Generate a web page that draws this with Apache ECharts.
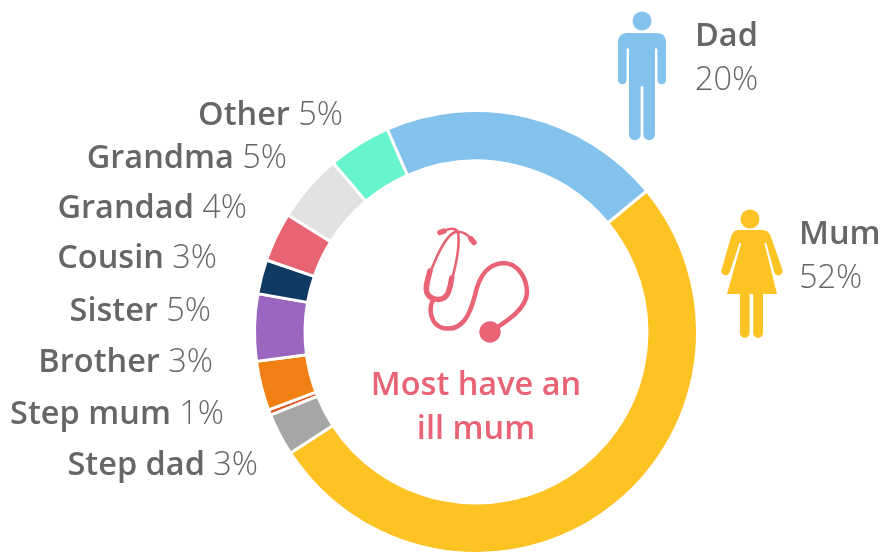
<!DOCTYPE html>
<html>
<head>
<meta charset="utf-8">
<style>
html, body { margin: 0; padding: 0; background: #fff; }
#main { width: 882px; height: 554px; }
</style>
<script src="https://cdn.jsdelivr.net/npm/echarts@6/dist/echarts.min.js"></script>
</head>
<body>
<div id="main"></div>
<script>
// slices run clockwise, starting with Mum
var names = ['Mum', 'Step dad', 'Step mum', 'Brother', 'Sister', 'Cousin', 'Grandad', 'Grandma', 'Other', 'Dad'];
// printed percentages
var printed = [52, 3, 1, 3, 5, 3, 4, 5, 5, 20];
// share of the ring each slice really takes up
var values = [51.9, 3.1, 0.4, 3.6, 4.9, 2.5, 3.6, 5.0, 4.6, 20.6];
var colors = ['#FDC323', '#A6A6A6', '#E04E1C', '#F18014', '#9A66C0', '#0F3A63', '#E86474', '#E2E2E2', '#66F5CE', '#83C2EC'];

// where each label goes: [x, y, align]
var labelSpots = [
    [799, 257, 'left'], [258, 466, 'right'], [224, 415, 'right'], [213, 363, 'right'], [211, 312, 'right'],
    [217, 259, 'right'], [247, 209, 'right'], [287, 159, 'right'], [343, 116, 'right'], [695, 59, 'left']
];

var textColor = '#666666';
var fontName = '"Open Sans", sans-serif';
var pink = '#E86474';

var dadPath = 'M627 33 H657 Q666 33 666 43 V80 A4.3 4.3 0 0 1 657.4 80 V49.5 Q657 48 656 48 Q655 48 655 49.5 V134.5 A5.8 5.8 0 0 1 643.4 134.5 V87 Q642 85 640.6 87 V134.5 A5.8 5.8 0 0 1 629 134.5 V49.5 Q629 48 628 48 Q627 48 626.6 49.5 V80 A4.3 4.3 0 0 1 618 80 V43 Q618 33 627 33 Z';
var mumPath = 'M738 230 H762 Q769 230 771 237 L782.5 270 A4.3 4.3 0 0 1 774.5 273 L766.6 244 Q765.5 242 764.5 243.5 L777 294 H763 V333 A4.9 4.9 0 0 1 753.2 333 V294 H749.6 V333 A4.8 4.8 0 0 1 740 333 V294 H727 L741 244 Q740.2 242 739.3 243.5 L729.5 273 A4.3 4.3 0 0 1 721.5 270 L731 237 Q733 230 738 230 Z';
var earTubes = 'M440 232.5 C447 229 455 226 458 232 C460 245 456 265 451.7 280 M474 242.5 C467 233 462 231 455 232 C445 236 436 258 430 273';
var earTips = 'M440 232.5 L444 231 M474 242.5 L471 239';
var yoke = 'M430 271 C427 282 425 288 427 293 C431 301 444 302 448 293 C450 288 451 284 451.7 278';
var mainTube = 'M433 300 C428 310 431 325 443 328 C462 332 470 315 475 295 C480 272 490 264 503 263 C518 263 527 278 527 293 C526 310 505 322 490 332';

var myChart = echarts.init(document.getElementById('main'));

var pieData = [];
for (var i = 0; i < names.length; i++) {
    pieData.push({ name: names[i], value: values[i], itemStyle: { color: colors[i] } });
}

function fillPath(d, fill) {
    return { type: 'path', shape: { pathData: d }, style: { fill: fill } };
}
function tubePath(d, width) {
    return { type: 'path', shape: { pathData: d }, style: { fill: 'none', stroke: pink, lineWidth: width, lineCap: 'round' } };
}

// the two people and the stethoscope
function drawIcons() {
    return {
        type: 'group',
        children: [
            { type: 'circle', shape: { cx: 642, cy: 21, r: 9.5 }, style: { fill: colors[9] } },
            fillPath(dadPath, colors[9]),
            { type: 'circle', shape: { cx: 750, cy: 219, r: 9.5 }, style: { fill: colors[0] } },
            fillPath(mumPath, colors[0]),
            tubePath(earTubes, 2.6),
            tubePath(earTips, 5.5),
            tubePath(yoke, 5.5),
            tubePath(mainTube, 4.5),
            { type: 'circle', shape: { cx: 490, cy: 332, r: 10.7 }, style: { fill: pink } }
        ]
    };
}

myChart.setOption({
    animation: false,
    backgroundColor: '#fff',
    series: [{
        type: 'pie',
        center: [476, 332],
        radius: [171, 221.5],
        startAngle: 39.6,
        clockwise: true,
        silent: true,
        data: pieData,
        itemStyle: { borderColor: '#fff', borderWidth: 3 },
        labelLine: { show: false },
        label: {
            show: true,
            position: 'outside',
            overflow: 'none',
            formatter: function (p) {
                var stacked = p.name === 'Mum' || p.name === 'Dad';
                return '{' + (stacked ? 'n' : 'g') + '|' + p.name + '}' + (stacked ? '\n' : ' ') + '{v|' + printed[p.dataIndex] + '%}';
            },
            rich: {
                n: { fontFamily: fontName, fontSize: 32.5, fontWeight: 600, color: textColor, lineHeight: 44 },
                g: { fontFamily: fontName, fontSize: 32.5, fontWeight: 600, color: textColor, lineHeight: 44, padding: [0, 5, 0, 0] },
                v: { fontFamily: fontName, fontSize: 32.5, fontWeight: 300, color: textColor, lineHeight: 44 }
            }
        },
        labelLayout: function (p) {
            var s = labelSpots[p.dataIndex];
            return { x: s[0], y: s[1], align: s[2], verticalAlign: 'middle', hideOverlap: false };
        }
    }, {
        type: 'custom',
        coordinateSystem: 'none',
        silent: true,
        data: [0],
        renderItem: drawIcons
    }],
    graphic: [{
        type: 'text',
        style: {
            x: 476, y: 408, text: 'Most have an\nill mum', align: 'center', verticalAlign: 'middle',
            font: '600 32.5px ' + fontName, lineHeight: 44, fill: pink
        }
    }]
});
window.onresize = myChart.resize;
</script>
</body>
</html>
